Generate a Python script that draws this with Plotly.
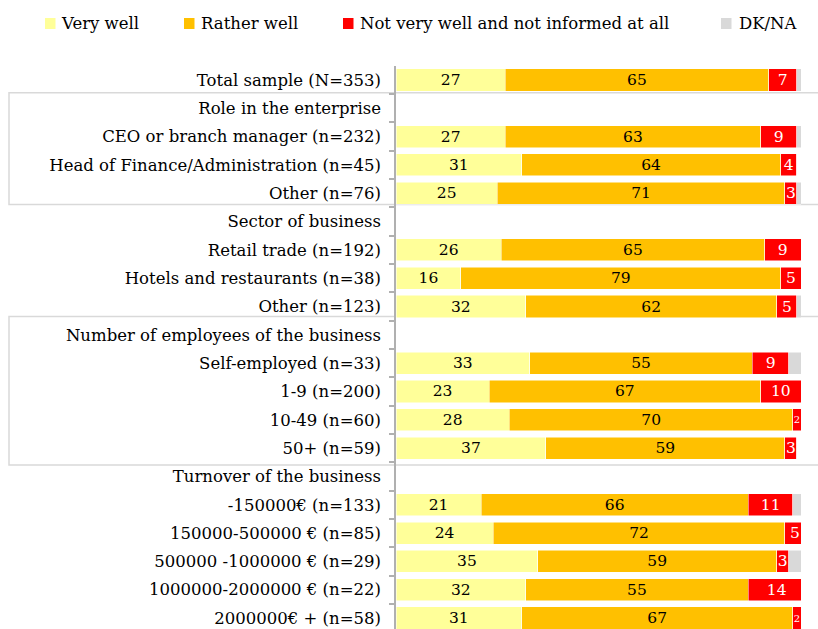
import plotly.graph_objects as go

# Survey rows, top to bottom (group headers have no values)
categories = [
    "Total sample (N=353)",
    "Role in the enterprise",
    "CEO or branch manager (n=232)",
    "Head of Finance/Administration (n=45)",
    "Other (n=76)",
    "Sector of business",
    "Retail trade (n=192)",
    "Hotels and restaurants (n=38)",
    "Other (n=123)",
    "Number of employees of the business",
    "Self-employed (n=33)",
    "1-9 (n=200)",
    "10-49 (n=60)",
    "50+ (n=59)",
    "Turnover of the business",
    "-150000€ (n=133)",
    "150000-500000 € (n=85)",
    "500000 -1000000 € (n=29)",
    "1000000-2000000 € (n=22)",
    "2000000€ + (n=58)",
]

very_well = [27, None, 27, 31, 25, None, 26, 16, 32, None, 33, 23, 28, 37, None, 21, 24, 35, 32, 31]
rather_well = [65, None, 63, 64, 71, None, 65, 79, 62, None, 55, 67, 70, 59, None, 66, 72, 59, 55, 67]
not_well = [7, None, 9, 4, 3, None, 9, 5, 5, None, 9, 10, 2, 3, None, 11, 5, 3, 14, 2]
dk_na = [1, None, 1, 0, 1, None, 0.5, 0, 1, None, 3, 0.5, 0, 0, None, 2, 0, 3, 0, 0]

series_names = ["Very well", "Rather well", "Not very well and not informed at all", "DK/NA"]
series_values = [very_well, rather_well, not_well, dk_na]
series_colors = ["#FFFF99", "#FFC000", "#FF0000", "#D9D9D9"]
text_colors = ["#000000", "#000000", "#FFFFFF", "#000000"]
show_labels = [True, True, True, False]

FONT = "DejaVu Serif"
W, H = 818, 629
M_L, M_R, M_T, M_B = 396, 17, 66, 0
PW, PH = W - M_L - M_R, H - M_T - M_B


def px_x(px):
    return (px - M_L) / PW


def px_y(py):
    return (H - M_B - py) / PH


fig = go.Figure()
for name, vals, color, tcol, lab in zip(series_names, series_values, series_colors, text_colors, show_labels):
    texts = [str(v) if (lab and v) else "" for v in vals]
    # very narrow segments get a smaller label
    sizes = [15.5 if (v is None or v >= 3) else 10 for v in vals]
    fig.add_trace(go.Bar(
        y=categories,
        x=vals,
        name=name,
        orientation="h",
        marker=dict(color=color, line=dict(color="#FFFFFF", width=0.5)),
        text=texts,
        textposition="inside",
        insidetextanchor="middle",
        textangle=0,
        constraintext="none",
        insidetextfont=dict(family=FONT, size=sizes, color=tcol),
        showlegend=False,
        hoverinfo="x+y+name",
    ))

# Boxes around alternating groups
box_color = "#D9D9D9"
for y0, y1 in [(0.45, 4.4), (8.35, 13.6)]:
    fig.add_shape(type="rect", xref="paper", yref="y",
                  x0=px_x(9), x1=px_x(830), y0=y0, y1=y1,
                  line=dict(color=box_color, width=1.5), layer="below")

# Legend row drawn as swatches + labels
legend_items = [(45, 59), (184, 199), (343, 358), (721, 737)]
for (sq_x, tx_x), name, color in zip(legend_items, series_names, series_colors):
    fig.add_shape(type="rect", xref="paper", yref="paper",
                  x0=px_x(sq_x), x1=px_x(sq_x + 10.5),
                  y0=px_y(29), y1=px_y(18),
                  line=dict(width=0), fillcolor=color)
    fig.add_annotation(xref="paper", yref="paper", x=px_x(tx_x), y=px_y(23.5),
                       text=name, showarrow=False, xanchor="left", yanchor="middle",
                       font=dict(family=FONT, size=16.5, color="#000000"))

row_px = 28.32
fig.update_layout(
    width=W, height=H,
    margin=dict(l=M_L, r=M_R, t=M_T, b=M_B, pad=0),
    barmode="stack",
    bargap=0.22,
    plot_bgcolor="white",
    paper_bgcolor="white",
    font=dict(family=FONT, size=16.5, color="#000000"),
    xaxis=dict(visible=False, range=[0, 100], fixedrange=True),
    yaxis=dict(
        type="category",
        categoryorder="array",
        categoryarray=categories,
        range=[19 + (H - 618) / row_px, -14 / row_px],
        showline=True, linecolor="#B0B0B0", linewidth=1.5,
        ticks="outside", ticklen=5, tickcolor="#B0B0B0", tickwidth=1.5,
        tickson="boundaries",
        ticklabelstandoff=10,
        showgrid=False,
        tickfont=dict(family=FONT, size=16.5, color="#000000"),
    ),
)

fig.write_html("out.html")
